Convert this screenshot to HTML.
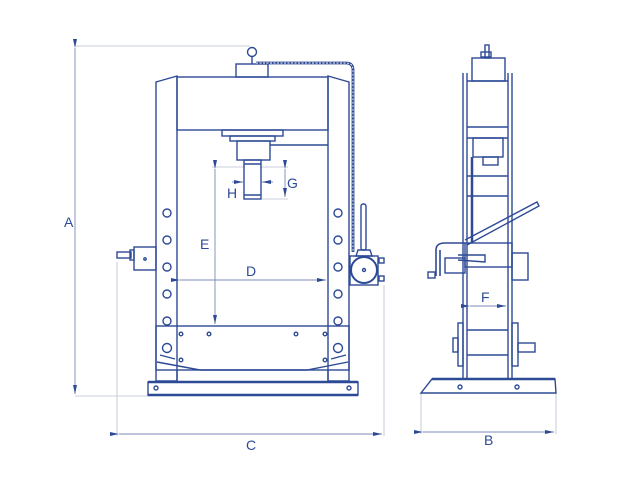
<!DOCTYPE html>
<html><head><meta charset="utf-8"><style>
html,body{margin:0;padding:0;background:#fff;}
svg{display:block;}
text{font-family:"Liberation Sans",sans-serif;fill:#2d4a96;font-size:14px;}
</style></head><body>
<svg width="640" height="480" viewBox="0 0 640 480" xmlns="http://www.w3.org/2000/svg">
<defs>
<marker id="ar" markerWidth="9" markerHeight="6" refX="9" refY="3" orient="auto" markerUnits="userSpaceOnUse"><path d="M0,1 L9,3 L0,5 Z" fill="#2d4a96"/></marker>
</defs>
<g stroke="#b8bfd0" stroke-width="0.8" fill="none">
<line x1="75" y1="46" x2="250" y2="46"/>
<line x1="75" y1="396" x2="150" y2="396"/>
<line x1="117" y1="262" x2="117" y2="436"/>
<line x1="384" y1="285" x2="384" y2="436"/>
<line x1="421" y1="393" x2="421" y2="434"/>
<line x1="556" y1="393" x2="556" y2="434"/>
<line x1="212" y1="167" x2="245" y2="167"/>
<line x1="260" y1="167" x2="288" y2="167"/>
<line x1="262" y1="199" x2="288" y2="199"/>
</g>
<g stroke="#7d8bb5" stroke-width="0.9" fill="none">
<line x1="75" y1="48" x2="75" y2="394" marker-start="url(#ar)" marker-end="url(#ar)"/>
<line x1="119" y1="434" x2="382" y2="434" marker-start="url(#ar)" marker-end="url(#ar)"/>
<line x1="423" y1="432" x2="554" y2="432" marker-start="url(#ar)" marker-end="url(#ar)"/>
<line x1="215" y1="169" x2="215" y2="324" marker-start="url(#ar)" marker-end="url(#ar)"/>
<line x1="180" y1="280" x2="326" y2="280" marker-start="url(#ar)" marker-end="url(#ar)"/>
<line x1="285" y1="169" x2="285" y2="197" marker-start="url(#ar)" marker-end="url(#ar)"/>
<line x1="232" y1="182" x2="243" y2="182" marker-end="url(#ar)"/>
<line x1="273" y1="182" x2="262" y2="182" marker-end="url(#ar)"/>
<line x1="470" y1="306" x2="506" y2="306" marker-start="url(#ar)" marker-end="url(#ar)"/>
</g>
<text x="64" y="227">A</text>
<text x="246" y="450">C</text>
<text x="484" y="445">B</text>
<text x="200" y="249">E</text>
<text x="246" y="276">D</text>
<text x="287" y="188">G</text>
<text x="227" y="198">H</text>
<text x="481" y="302">F</text>

<g stroke="#2d4a96" stroke-width="1.4" fill="none">
<path d="M156,82 L177,76 L177,381 L156,381 Z"/>
<path d="M328,76 L349,82 L349,381 L328,381 Z"/>
<rect x="177" y="77" width="151" height="53"/>
<rect x="236" y="64" width="32" height="13"/>
<circle cx="252" cy="52" r="4.5"/>
<line x1="252" y1="57" x2="252" y2="64"/>
<rect x="222" y="130" width="61" height="6"/>
<rect x="230" y="136" width="45" height="5"/>
<rect x="237" y="141" width="33" height="19"/>
<rect x="244" y="160" width="17" height="39"/>
<line x1="244" y1="164" x2="261" y2="164"/>
<line x1="244" y1="195" x2="261" y2="195"/>
<line x1="270" y1="145" x2="328" y2="145"/>
<rect x="156" y="326" width="193" height="44"/>
<path d="M157,362 L200,370 L307,370 L348,362"/>
<line x1="160" y1="355" x2="175" y2="359"/>
<line x1="331" y1="359" x2="346" y2="355"/>
<line x1="177" y1="370" x2="177" y2="381"/>
<line x1="328" y1="370" x2="328" y2="381"/>
<rect x="148" y="382" width="210" height="13"/>
<line x1="148" y1="382" x2="358" y2="382" stroke-width="2.4"/>
<line x1="148" y1="395" x2="358" y2="395" stroke-width="2.4"/>
<circle cx="167" cy="213" r="4"/><circle cx="167" cy="240" r="4"/><circle cx="167" cy="267" r="4"/><circle cx="167" cy="294" r="4"/><circle cx="167" cy="321" r="4"/>
<circle cx="338" cy="213" r="4"/><circle cx="338" cy="240" r="4"/><circle cx="338" cy="267" r="4"/><circle cx="338" cy="294" r="4"/><circle cx="338" cy="321" r="4"/>
<circle cx="167" cy="348" r="4.5"/><circle cx="338" cy="348" r="4.5"/>
<circle cx="181" cy="334" r="1.8"/><circle cx="209" cy="334" r="1.8"/><circle cx="296" cy="334" r="1.8"/><circle cx="325" cy="334" r="1.8"/>
<circle cx="181" cy="360" r="1.8"/><circle cx="325" cy="360" r="1.8"/>
<circle cx="156" cy="388" r="2"/><circle cx="349" cy="388" r="2"/>
<rect x="134" y="247" width="22" height="23"/>
<rect x="117" y="252" width="14" height="6"/>
<rect x="130" y="250" width="4" height="10"/>
<circle cx="145" cy="259" r="1.2"/>
<rect x="350" y="256" width="28" height="29"/>
<circle cx="364" cy="270" r="13" stroke-width="2"/>
<circle cx="364" cy="270" r="1.5"/>
<rect x="361" y="204" width="5" height="46" rx="2"/>
<path d="M358,250 L370,250 L372,256 L356,256 Z"/>
<rect x="379" y="258" width="5" height="5"/><rect x="379" y="276" width="5" height="5"/>
<path d="M256,63 L346,63 Q353,63 353,70 L353,252" stroke-width="2.8"/>
<path d="M256,63 L346,63 Q353,63 353,70 L353,252" stroke="#fff" stroke-width="0.9" stroke-dasharray="2,1.5"/>
</g>

<g stroke="#2d4a96" stroke-width="1.4" fill="none">
<line x1="463" y1="73" x2="463" y2="379"/><line x1="467" y1="73" x2="467" y2="379"/>
<line x1="508" y1="73" x2="508" y2="379"/><line x1="512" y1="73" x2="512" y2="379"/>
<rect x="472" y="58" width="33" height="23"/>
<rect x="485" y="45" width="4" height="13"/><rect x="481" y="52" width="10" height="5"/>
<line x1="467" y1="81" x2="508" y2="81"/>
<line x1="467" y1="127" x2="508" y2="127"/><line x1="467" y1="138" x2="508" y2="138"/>
<rect x="473" y="138" width="30" height="19"/>
<rect x="483" y="157" width="15" height="8"/>
<line x1="467" y1="176" x2="508" y2="176"/><line x1="467" y1="196" x2="508" y2="196"/>
<line x1="472" y1="157" x2="472" y2="243" stroke-width="2.5"/>
<path d="M465,240 L537,202 L539,206 L467,245"/>
<rect x="465" y="243" width="47" height="24"/>
<path d="M458,255 L485,255 L485,262 L458,260"/>
<path d="M436,250 L436,276 M440,250 L440,276 M436,250 Q436,243 445,243 L465,243" stroke-width="1.6"/>
<rect x="445" y="258" width="20" height="15"/>
<rect x="428" y="272" width="7" height="6"/>
<rect x="512" y="253" width="16" height="27"/>
<line x1="467" y1="330" x2="508" y2="330"/><line x1="467" y1="355" x2="508" y2="355"/>
<rect x="458" y="323" width="5" height="43"/><rect x="512" y="323" width="6" height="43"/>
<rect x="453" y="338" width="5" height="14"/><rect x="518" y="343" width="17" height="9"/>
<path d="M432,379 L555,379 L556,393 L421,393 Z"/>
<line x1="432" y1="379" x2="555" y2="379" stroke-width="2.4"/>
<circle cx="460" cy="387" r="2"/><circle cx="517" cy="387" r="2"/>
</g>
</svg>
</body></html>
